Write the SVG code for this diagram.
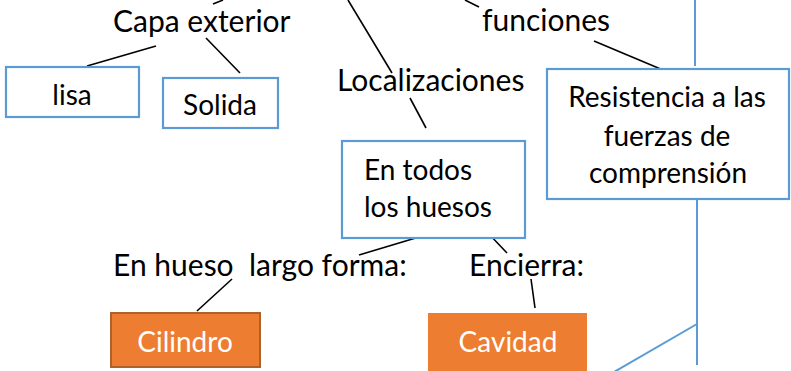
<svg xmlns="http://www.w3.org/2000/svg" width="791" height="371" viewBox="0 0 791 371">
<style>
.lbl{font-family:Lato,"Liberation Sans",sans-serif;font-size:30px;fill:#000;}
.bt{font-family:Lato,"Liberation Sans",sans-serif;font-size:28px;fill:#000;}
.wt{font-family:Lato,"Liberation Sans",sans-serif;font-size:28px;fill:#fff;}
.box{fill:#fff;stroke:#5B9BD5;stroke-width:2.2;}
.obox{fill:#ED7D31;stroke:#B0602A;stroke-width:2;}
.obox2{fill:#ED7D31;stroke:none;}
.ln{stroke:#000;stroke-width:1.6;fill:none;}
.bl{stroke:#5B9BD5;stroke-width:2;fill:none;}
</style>
<rect width="791" height="371" fill="#fff"/>
<g id="connectors">
<line class="ln" x1="213" y1="4" x2="223" y2="0"/>
<line class="ln" x1="87" y1="66" x2="156" y2="46"/>
<line class="ln" x1="206" y1="38" x2="240" y2="73"/>
<line class="ln" x1="348" y1="0" x2="392" y2="73"/>
<line class="ln" x1="465" y1="0" x2="479" y2="7"/>
<line class="ln" x1="594" y1="41" x2="663" y2="70"/>
<line class="ln" x1="410" y1="98" x2="426" y2="128"/>
<line class="ln" x1="419" y1="237" x2="359" y2="255"/>
<line class="ln" x1="488" y1="233" x2="507" y2="253"/>
<line class="ln" x1="232" y1="279" x2="197" y2="311"/>
<line class="ln" x1="531" y1="279" x2="535" y2="308"/>
<line class="bl" x1="695" y1="0" x2="695" y2="66"/>
<line class="bl" x1="697" y1="200" x2="697" y2="365"/>
<line class="bl" x1="697" y1="324" x2="614" y2="372"/>
</g>
<g id="capa-exterior"><text class="lbl" x="113" y="32">Capa exterior</text></g>
<g id="funciones"><text class="lbl" x="482" y="31">funciones</text></g>
<g id="localizaciones"><text class="lbl" x="337" y="91">Localizaciones</text></g>
<g id="en-hueso"><text class="lbl" x="113" y="276" xml:space="preserve" style="white-space:pre">En hueso  largo forma:</text></g>
<g id="encierra"><text class="lbl" x="469" y="276">Encierra:</text></g>
<g id="lisa"><rect class="box" x="6" y="67" width="133" height="50"/><text class="bt" x="72" y="105" text-anchor="middle">lisa</text></g>
<g id="solida"><rect class="box" x="163" y="78" width="115" height="50"/><text class="bt" x="220" y="115" text-anchor="middle">Solida</text></g>
<g id="resistencia"><rect class="box" x="547" y="69" width="242" height="130"/>
<text class="bt" x="667" y="107" text-anchor="middle">Resistencia a las</text>
<text class="bt" x="667" y="146" text-anchor="middle">fuerzas de</text>
<text class="bt" x="668" y="183" text-anchor="middle">comprensión</text></g>
<g id="en-todos"><rect class="box" x="342" y="141" width="183" height="97"/>
<text class="bt" x="364" y="180">En todos</text>
<text class="bt" x="364" y="217">los huesos</text></g>
<g id="cilindro"><rect class="obox" x="111" y="313" width="149" height="54"/><text class="wt" x="185" y="352" text-anchor="middle">Cilindro</text></g>
<g id="cavidad"><rect class="obox2" x="428" y="313" width="159" height="60"/><text class="wt" x="508" y="352" text-anchor="middle">Cavidad</text></g>
</svg>
